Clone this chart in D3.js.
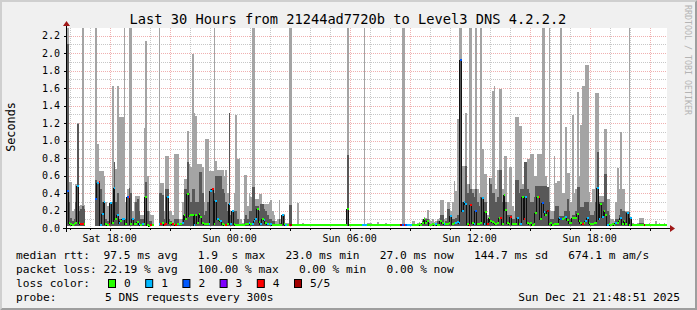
<!DOCTYPE html>
<html>
<head>
<meta charset="utf-8">
<script src="https://cdnjs.cloudflare.com/ajax/libs/d3/7.8.5/d3.min.js"></script>
<style>
  body { margin: 0; background: #f0f0f0; }
  svg { display: block; }
  text { font-family: "DejaVu Sans Mono", monospace; fill: #000; white-space: pre; }
</style>
</head>
<body>
<script>
// 5 minute samples, 30 hours (360 steps), values in seconds
const smokeHi = [
  2.29,0.53,0.53,0.20,0.22,0.50,1.20,0.25,0.26,2.29,
  0.26,null,null,null,null,null,null,2.29,0.96,0.65,
  0.65,0.65,0.60,0.30,0.25,0.25,0.30,1.63,0.76,0.67,
  1.62,1.27,1.27,1.27,2.29,0.30,0.45,2.29,2.29,0.20,
  0.30,0.37,0.37,0.37,0.15,0.15,1.14,2.14,0.60,0.20,
  0.15,0.15,null,null,null,2.29,0.52,0.52,0.20,0.82,
  0.82,0.20,0.20,0.15,0.85,0.85,0.85,0.10,0.10,0.30,
  0.56,0.56,1.11,0.73,0.70,1.99,1.31,1.28,0.73,0.73,
  0.73,0.70,0.30,1.02,1.02,0.65,0.65,0.65,2.29,0.77,
  0.66,0.66,0.66,0.66,0.60,0.66,0.40,1.31,0.20,0.20,
  0.40,1.29,0.79,0.80,0.10,0.06,0.61,0.61,0.25,0.40,
  0.35,2.29,2.29,0.33,0.33,0.39,0.39,0.27,0.27,0.27,
  0.27,0.30,0.32,0.20,0.15,0.08,0.10,0.32,0.10,0.16,
  0.16,0.06,0.06,2.29,2.29,0.05,0.05,0.05,0.29,0.05,
  0.05,0.06,0.05,0.05,0.05,0.05,0.04,0.04,0.05,0.04,
  0.04,0.05,0.04,0.04,0.04,0.05,0.04,0.04,0.04,0.04,
  0.04,0.04,0.05,0.05,0.04,0.04,0.04,0.05,2.29,0.05,
  0.04,0.04,0.04,0.04,0.04,0.04,0.04,0.05,2.29,0.05,
  0.06,0.06,0.06,0.04,0.04,0.04,0.07,0.04,0.04,0.04,
  0.04,0.06,0.04,0.04,0.04,0.04,0.04,0.04,0.04,0.04,
  0.05,2.29,2.29,0.05,0.05,0.05,0.05,0.08,0.08,0.05,
  0.06,0.07,0.06,0.10,0.13,0.12,0.21,0.10,0.08,0.10,
  0.07,0.08,0.10,0.12,0.32,0.32,0.10,0.12,0.30,0.30,
  0.20,0.30,0.54,0.42,1.25,2.29,2.29,0.71,0.71,1.32,
  0.50,2.29,2.29,0.45,0.45,2.29,0.45,0.40,2.29,0.90,
  0.62,0.62,0.15,0.57,0.57,1.57,1.63,0.45,0.66,1.59,
  1.59,0.45,0.82,0.82,0.30,0.70,0.70,0.25,0.20,1.27,
  1.27,1.17,1.17,0.50,0.75,0.75,0.79,0.79,0.85,0.85,
  0.60,0.60,0.85,0.85,0.85,2.29,2.29,0.60,0.47,2.29,
  0.20,0.20,0.82,0.52,0.54,0.54,2.29,0.40,0.40,1.16,
  0.63,0.63,0.30,1.29,0.40,0.45,1.56,0.60,1.18,1.63,
  1.63,1.87,1.87,0.41,0.30,0.45,0.45,1.55,1.55,0.37,
  0.37,0.37,1.13,1.13,0.33,0.33,0.10,0.10,0.08,0.30,
  0.69,0.45,1.10,0.45,0.45,0.20,0.20,2.29,0.12,0.06,
  0.05,0.05,0.06,0.11,0.11,0.11,0.05,0.05,0.05,0.06,
  0.05,0.05,0.05,0.08,0.05,0.06,0.05,0.05,0.06,0.05
];
const smokeIn = [
  2.10,0.30,0.12,0.08,0.10,0.30,1.19,0.20,0.22,0.25,
  0.22,null,null,null,null,null,null,0.55,0.53,0.53,
  0.45,0.30,0.30,0.10,0.08,0.10,0.28,0.30,0.76,0.30,
  0.40,0.10,0.10,0.12,0.12,0.10,0.35,0.46,0.40,0.10,
  0.10,0.30,0.33,0.20,0.10,0.10,0.35,0.53,0.20,0.08,
  0.08,0.05,null,null,null,0.40,0.40,0.38,0.10,0.45,
  0.45,0.10,0.08,0.05,0.10,0.10,0.10,0.05,0.06,0.10,
  0.45,0.45,0.75,0.40,0.30,0.45,0.45,0.30,0.30,0.64,
  0.64,0.40,0.15,0.20,0.30,0.40,0.45,0.45,0.40,0.60,
  0.60,0.60,0.60,0.45,0.40,0.30,0.20,1.31,0.15,0.18,
  0.20,0.20,0.10,0.05,0.05,0.05,0.10,0.15,0.10,0.20,
  0.20,0.47,0.47,0.25,0.25,0.20,0.27,0.27,0.22,0.20,
  0.15,0.10,0.10,0.08,0.08,0.05,0.05,0.10,0.06,0.15,
  0.15,0.04,0.04,0.26,0.26,0.04,0.04,0.04,0.05,0.04,
  0.04,0.04,0.04,0.04,0.04,0.04,0.04,0.04,0.04,0.04,
  0.04,0.04,0.04,0.04,0.04,0.04,0.04,0.04,0.04,0.04,
  0.04,0.04,0.04,0.04,0.04,0.04,0.04,0.04,0.83,0.04,
  0.04,0.04,0.04,0.04,0.04,0.04,0.04,0.04,0.04,0.04,
  0.04,0.04,0.04,0.04,0.04,0.04,0.04,0.04,0.04,0.04,
  0.04,0.04,0.04,0.04,0.04,0.04,0.04,0.04,0.04,0.04,
  0.04,0.04,0.04,0.04,0.04,0.04,0.04,0.04,0.04,0.04,
  0.04,0.05,0.04,0.08,0.12,0.10,0.10,0.06,0.05,0.05,
  0.05,0.05,0.08,0.05,0.15,0.15,0.06,0.08,0.22,0.22,
  0.15,0.10,0.10,0.12,0.15,0.40,1.92,0.30,0.31,0.71,
  0.40,0.50,0.45,0.40,0.35,0.45,0.30,0.25,0.35,0.35,
  0.30,0.30,0.10,0.57,0.50,0.40,0.40,0.30,0.35,0.66,
  0.66,0.30,0.39,0.30,0.15,0.15,0.15,0.10,0.10,0.55,
  0.55,0.40,0.45,0.45,0.75,0.75,0.45,0.40,0.30,0.30,
  0.35,0.48,0.48,0.48,0.48,0.48,0.48,0.48,0.47,0.30,
  0.10,0.10,0.20,0.25,0.25,0.14,0.14,0.14,0.20,0.20,
  0.33,0.20,0.10,0.15,0.15,0.20,0.47,0.47,0.24,0.24,
  0.30,0.30,0.30,0.20,0.15,0.15,0.20,0.30,0.87,0.30,
  0.30,0.30,0.62,0.62,0.20,0.15,0.05,0.06,0.05,0.10,
  0.10,0.15,0.22,0.20,0.20,0.18,0.18,0.18,0.10,0.04,
  0.04,0.04,0.04,0.06,0.06,0.06,0.04,0.04,0.04,0.04,
  0.04,0.04,0.04,0.04,0.04,0.04,0.04,0.04,0.04,0.04
];
const smokeLo = [
  0.02,0.02,0.02,0.02,0.02,0.02,0.02,0.02,0.02,0.02,
  0.02,null,null,null,null,null,null,0.02,0.02,0.02,
  0.02,0.02,0.02,0.02,0.02,0.02,0.02,0.02,0.02,0.02,
  0.02,0.02,0.02,0.02,0.02,0.02,0.02,0.02,0.02,0.02,
  0.02,0.02,0.02,0.02,0.02,0.02,0.02,0.02,0.02,0.02,
  0.02,0.02,null,null,null,0.02,0.02,0.02,0.02,0.02,
  0.02,0.02,0.02,0.02,0.02,0.02,0.02,0.02,0.02,0.02,
  0.02,0.02,0.02,0.02,0.02,0.02,0.02,0.02,0.02,0.02,
  0.02,0.02,0.02,0.02,0.02,0.02,0.02,0.02,0.02,0.02,
  0.02,0.02,0.02,0.02,0.02,0.02,0.02,0.02,0.02,0.02,
  0.02,0.02,0.02,0.02,0.02,0.02,0.02,0.02,0.02,0.02,
  0.02,0.02,0.02,0.02,0.02,0.02,0.02,0.02,0.02,0.02,
  0.02,0.02,0.02,0.02,0.02,0.02,0.02,0.02,0.02,0.02,
  0.02,0.02,0.02,0.02,0.02,0.02,0.02,0.02,0.02,0.02,
  0.02,0.02,0.02,0.02,0.02,0.02,0.02,0.02,0.02,0.02,
  0.02,0.02,0.02,0.02,0.02,0.02,0.02,0.02,0.02,0.02,
  0.02,0.02,0.02,0.02,0.02,0.02,0.02,0.02,0.02,0.02,
  0.02,0.02,0.02,0.02,0.02,0.02,0.02,0.02,0.02,0.02,
  0.02,0.02,0.02,0.02,0.02,0.02,0.02,0.02,0.02,0.02,
  0.02,0.02,0.02,0.02,0.02,0.02,0.02,0.02,0.02,0.02,
  0.02,0.02,0.02,0.02,0.02,0.02,0.02,0.02,0.02,0.02,
  0.02,0.02,0.02,0.02,0.02,0.02,0.02,0.02,0.02,0.02,
  0.02,0.02,0.02,0.02,0.02,0.02,0.02,0.02,0.02,0.02,
  0.02,0.02,0.02,0.02,0.02,0.02,0.02,0.02,0.02,0.02,
  0.02,0.02,0.02,0.02,0.02,0.02,0.02,0.02,0.02,0.02,
  0.02,0.02,0.02,0.02,0.02,0.02,0.02,0.02,0.02,0.02,
  0.02,0.02,0.02,0.02,0.02,0.02,0.02,0.02,0.02,0.02,
  0.02,0.02,0.02,0.02,0.02,0.02,0.02,0.02,0.02,0.02,
  0.02,0.02,0.02,0.02,0.02,0.02,0.02,0.02,0.02,0.02,
  0.02,0.02,0.02,0.02,0.02,0.02,0.02,0.02,0.02,0.02,
  0.02,0.02,0.02,0.02,0.02,0.02,0.02,0.02,0.02,0.02,
  0.02,0.02,0.02,0.02,0.02,0.02,0.02,0.02,0.02,0.02,
  0.02,0.02,0.02,0.02,0.02,0.02,0.02,0.02,0.02,0.02,
  0.02,0.02,0.02,0.02,0.02,0.02,0.02,0.02,0.02,0.02,
  0.02,0.02,0.02,0.02,0.02,0.02,0.02,0.02,0.02,0.02,
  0.02,0.02,0.02,0.02,0.02,0.02,0.02,0.02,0.02,0.02
];
const median = [
  0.42,0.06,0.05,0.04,0.05,0.06,0.48,0.06,0.05,0.05,
  0.05,null,null,null,null,null,null,0.33,0.51,0.53,
  0.04,0.16,0.30,0.05,0.04,0.05,0.29,0.06,0.46,0.10,
  0.15,0.06,0.08,0.10,0.10,0.05,0.35,0.36,0.05,0.10,
  0.05,0.05,0.07,0.05,0.04,0.05,0.05,0.36,0.03,0.02,
  0.04,0.04,null,null,null,0.05,0.05,0.06,0.04,0.05,
  0.36,0.06,0.06,0.05,0.05,0.04,0.05,0.05,0.05,0.06,
  0.15,0.10,0.39,0.14,0.15,0.15,0.04,0.15,0.06,0.16,
  0.13,0.06,0.05,0.05,0.05,0.05,0.42,0.45,0.05,0.31,
  0.10,0.09,0.08,0.05,0.04,0.03,0.05,0.28,0.05,0.20,
  0.05,0.04,0.04,0.04,0.04,0.04,0.04,0.05,0.05,0.06,
  0.05,0.05,0.08,0.10,0.22,0.07,0.05,0.10,0.09,0.06,
  0.05,0.05,0.05,0.04,0.04,0.04,0.04,0.04,0.04,0.15,
  0.05,0.03,0.03,0.03,0.03,0.03,0.03,0.03,0.03,0.03,
  0.03,0.03,0.03,0.03,0.03,0.03,0.03,0.03,0.03,0.03,
  0.03,0.03,0.03,0.03,0.03,0.03,0.03,0.03,0.03,0.03,
  0.03,0.03,0.03,0.03,0.03,0.03,0.03,0.03,0.22,0.03,
  0.03,0.03,0.03,0.03,0.03,0.03,0.03,0.03,0.03,0.03,
  0.03,0.03,0.03,0.03,0.03,0.03,0.03,0.03,0.03,0.03,
  0.03,0.03,0.03,0.03,0.03,0.03,0.03,0.03,0.03,0.03,
  0.03,0.03,0.03,0.03,0.03,0.03,0.03,0.03,0.03,0.03,
  0.03,0.05,0.03,0.06,0.10,0.06,0.08,0.04,0.04,0.05,
  0.03,0.05,0.04,0.04,0.08,0.06,0.05,0.05,0.05,0.06,
  0.14,0.05,0.06,0.06,0.07,0.06,1.92,0.19,0.30,0.28,
  0.05,0.04,0.26,0.06,0.05,0.20,0.05,0.05,0.06,0.34,
  0.05,0.18,0.05,0.11,0.08,0.07,0.06,0.05,0.06,0.11,
  0.11,0.05,0.38,0.21,0.06,0.05,0.13,0.05,0.05,0.05,
  0.11,0.05,0.05,0.36,0.10,0.35,0.06,0.05,0.06,0.04,
  0.05,0.17,0.36,0.36,0.10,0.29,0.18,0.15,0.19,0.05,
  0.06,0.04,0.05,0.05,0.05,0.11,0.10,0.10,0.12,0.13,
  0.09,0.06,0.06,0.12,0.12,0.12,0.16,0.08,0.06,0.05,
  0.06,0.08,0.11,0.06,0.05,0.05,0.06,0.06,0.46,0.10,
  0.27,0.13,0.20,0.15,0.03,0.05,0.04,0.05,0.04,0.06,
  0.06,0.08,0.11,0.05,0.08,0.05,0.17,0.04,0.11,0.03,
  0.03,0.03,0.03,0.03,0.03,0.03,0.03,0.03,0.03,0.03,
  0.03,0.03,0.03,0.03,0.03,0.03,0.03,0.03,0.03,0.03
];
// lost pings out of 5 for each step
const loss = [
  2,0,0,0,0,0,1,0,4,4,
  0,null,null,null,null,null,null,2,1,4,
  1,1,1,0,0,4,1,0,1,0,
  1,1,0,1,1,0,2,4,0,1,
  0,0,0,1,0,1,0,0,0,0,
  4,0,null,null,null,1,4,0,4,4,
  1,0,0,4,0,4,0,1,0,1,
  0,0,0,0,0,0,1,0,0,0,
  0,0,0,0,0,1,1,4,0,1,
  1,0,1,0,0,4,0,1,1,1,
  0,0,0,0,0,0,0,0,0,1,
  0,1,1,1,0,0,1,0,1,0,
  1,0,1,0,0,0,0,0,0,1,
  0,1,0,4,5,0,0,0,0,0,
  0,0,0,0,0,0,0,0,0,0,
  0,0,0,0,0,0,0,0,0,0,
  0,0,0,0,0,0,0,0,0,0,
  0,0,0,0,0,0,0,1,1,1,
  0,0,0,0,0,0,0,0,0,0,
  0,0,0,0,0,0,0,0,0,0,
  5,2,4,2,1,1,1,0,0,0,
  0,0,0,0,0,0,0,0,0,0,
  0,1,0,0,0,0,1,0,0,0,
  1,0,0,1,1,1,2,1,1,1,
  0,4,4,0,1,2,0,0,0,1,
  1,0,4,0,0,0,0,0,0,0,
  4,0,0,0,0,0,4,0,0,0,
  1,0,1,0,4,1,0,0,0,0,
  0,0,0,4,0,2,1,0,5,0,
  0,0,0,0,0,1,2,0,0,1,
  0,0,0,0,0,0,0,0,0,4,
  0,1,1,0,0,0,0,0,1,1,
  0,1,0,0,1,0,0,0,0,1,
  0,0,1,0,0,0,1,0,1,0,
  0,0,0,0,0,0,5,0,0,0,
  0,0,0,0,0,0,0,0,0,0
];

const lossLabels = ["0", "1", "2", "3", "4", "5/5"];
const lossColors = ["#26ff00", "#00b8ff", "#0059ff", "#7e00ff", "#ff0000", "#a10000"];

const title = "Last 30 Hours from 21244ad7720b to Level3 DNS 4.2.2.2";
const legendRtt = "median rtt:  97.5 ms avg   1.9  s max   23.0 ms min   27.0 ms now   144.7 ms sd   674.1 m am/s";
const legendLoss = "packet loss: 22.19 % avg   100.00 % max   0.00 % min   0.00 % now";
const probeText = "5 DNS requests every 300s";
const stampText = "Sun Dec 21 21:48:51 2025";

const W = 697, H = 310;
const pL = 67, pR = 667, pT = 28, pB = 228;
const start = new Date(2025, 11, 20, 15, 52, 0);
const step = 5 * 60 * 1000;
const yMax = 2.288;

const svg = d3.select("body").append("svg")
  .attr("width", W)
  .attr("height", H);

// frame with 3d shading
svg.append("rect").attr("width", W).attr("height", H).attr("fill", "#f0f0f0");
svg.append("path").attr("d", `M0,0H${W}L${W-2},2H2V${H-2}L0,${H}Z`).attr("fill", "#cfcfcf");
svg.append("path").attr("d", `M${W},0V${H}H0L2,${H-2}H${W-2}V2Z`).attr("fill", "#9e9e9e");

const x = d3.scaleTime()
  .domain([start, new Date(+start + 30 * 3600 * 1000)])
  .range([pL, pR]);
const y = d3.scaleLinear()
  .domain([0, yMax])
  .range([pB, pT]);

svg.append("rect")
  .attr("x", pL).attr("y", pT)
  .attr("width", pR - pL).attr("height", pB - pT)
  .attr("fill", "#fff");

// grid (under the graph, like rrdtool)
const grid = svg.append("g").attr("shape-rendering", "crispEdges");
const hours = x.ticks(d3.timeHour.every(1));
const minorCol = "rgba(143,143,143,0.5)";
const majorCol = "rgba(222,80,80,0.45)";
grid.selectAll("line.v")
  .data(hours)
  .enter().append("line")
  .attr("x1", t => Math.round(x(t)) + 0.5).attr("x2", t => Math.round(x(t)) + 0.5)
  .attr("y1", pT).attr("y2", pB)
  .attr("stroke", t => t.getHours() % 3 === 0 ? majorCol : minorCol)
  .attr("stroke-dasharray", "1,1");

const yTicks = d3.range(1, 23).map(k => k / 10);
grid.selectAll("line.h")
  .data(yTicks)
  .enter().append("line")
  .attr("x1", pL).attr("x2", pR)
  .attr("y1", v => Math.round(y(v)) + 0.5).attr("y2", v => Math.round(y(v)) + 0.5)
  .attr("stroke", (v, i) => i % 2 === 1 ? majorCol : minorCol)
  .attr("stroke-dasharray", "1,1");

const samples = median.map((m, i) => ({
  t0: new Date(+start + i * step),
  t1: new Date(+start + (i + 1) * step),
  lo: smokeLo[i], hi: smokeHi[i], inner: smokeIn[i], med: m, loss: loss[i]
})).filter(d => d.med != null);

const px0 = d => Math.round(x(d.t0));
const px1 = d => Math.round(x(d.t1));
const py = v => y(Math.min(v, yMax));

const plot = svg.append("g").attr("shape-rendering", "crispEdges");

// outer smoke (fastest to slowest ping)
plot.selectAll("rect.outer")
  .data(samples)
  .enter().append("rect")
  .attr("class", "outer")
  .attr("x", px0)
  .attr("width", d => px1(d) - px0(d))
  .attr("y", d => Math.round(py(d.hi)))
  .attr("height", d => Math.max(0, Math.round(py(d.lo)) - Math.round(py(d.hi))))
  .attr("fill", "#a4a4a4");

// inner smoke
plot.selectAll("rect.inner")
  .data(samples)
  .enter().append("rect")
  .attr("class", "inner")
  .attr("x", px0)
  .attr("width", d => px1(d) - px0(d))
  .attr("y", d => Math.round(py(d.inner)))
  .attr("height", d => Math.max(0, Math.round(py(d.lo)) - Math.round(py(d.inner))))
  .attr("fill", "#585858");

// median step line
const pts = [];
median.forEach((m, i) => {
  const a = Math.round(x(new Date(+start + i * step)));
  const b = Math.round(x(new Date(+start + (i + 1) * step)));
  if (m == null) { pts.push(null); return; }
  pts.push([a, py(m)], [b, py(m)]);
});
plot.append("path")
  .attr("d", d3.line().defined(p => p != null).x(p => p[0] - 0.5).y(p => Math.round(p[1]) + 0.5)(pts))
  .attr("fill", "none")
  .attr("stroke", "#111")
  .attr("stroke-width", 1);

// loss coloured median marks
plot.selectAll("rect.med")
  .data(samples)
  .enter().append("rect")
  .attr("class", "med")
  .attr("x", px0)
  .attr("width", d => px1(d) - px0(d))
  .attr("y", d => Math.round(py(d.med)) - 1)
  .attr("height", 2)
  .attr("fill", d => lossColors[d.loss]);

// axes
const ax = svg.append("g").attr("shape-rendering", "crispEdges");
ax.append("line").attr("x1", pL - 4).attr("x2", pR + 3)
  .attr("y1", pB + 0.5).attr("y2", pB + 0.5).attr("stroke", "#000");
ax.append("line").attr("x1", pL - 0.5).attr("x2", pL - 0.5)
  .attr("y1", pB + 4).attr("y2", pT - 2).attr("stroke", "#000");
ax.selectAll("line.yt")
  .data(d3.range(0, 23, 2).map(k => k / 10))
  .enter().append("line")
  .attr("x1", pL - 3).attr("x2", pL)
  .attr("y1", v => Math.round(y(v)) + 0.5).attr("y2", v => Math.round(y(v)) + 0.5)
  .attr("stroke", "#000");
ax.selectAll("line.xt")
  .data(hours)
  .enter().append("line")
  .attr("x1", t => Math.round(x(t)) + 0.5).attr("x2", t => Math.round(x(t)) + 0.5)
  .attr("y1", pB).attr("y2", t => t.getHours() % 3 === 0 ? pB + 3 : pB + 2)
  .attr("stroke", "#000");
svg.append("path").attr("d", `M${pR + 3},${pB - 3}L${pR + 8},${pB + 0.5}L${pR + 3},${pB + 4}Z`).attr("fill", "#a01818");
svg.append("path").attr("d", `M${pL - 4},${pT - 2}L${pL - 0.5},${pT - 7}L${pL + 3},${pT - 2}Z`).attr("fill", "#a01818");

svg.selectAll("text.yl")
  .data(d3.range(0, 23, 2).map(k => k / 10))
  .enter().append("text")
  .attr("x", 60).attr("y", v => y(v) + 3.5)
  .attr("text-anchor", "end")
  .style("font-size", "10px")
  .text(d3.format(".1f"));

svg.selectAll("text.xl")
  .data(hours.filter(t => t.getHours() % 6 === 0))
  .enter().append("text")
  .attr("x", t => x(t)).attr("y", 242)
  .attr("text-anchor", "middle")
  .style("font-size", "10px")
  .text(d3.timeFormat("%a %H:%M"));

svg.append("text")
  .attr("transform", "translate(15,127) rotate(-90)")
  .attr("text-anchor", "middle")
  .style("font-size", "11.8px")
  .text("Seconds");

svg.append("text")
  .attr("x", 348).attr("y", 24)
  .attr("text-anchor", "middle")
  .style("font-size", "13.7px")
  .text(title);

svg.append("text")
  .attr("transform", "translate(685,5) rotate(90)")
  .style("font-size", "8.3px")
  .style("fill", "#b4b4b4")
  .text("RRDTOOL / TOBI OETIKER");

// legend
const lg = svg.append("g").style("font-size", "11.2px");
lg.append("text").attr("x", 16).attr("y", 259).text(legendRtt);
lg.append("text").attr("x", 16).attr("y", 273).text(legendLoss);
lg.append("text").attr("x", 16).attr("y", 287).text("loss color:");
const sw = lg.selectAll("g.sw").data(lossLabels).enter().append("g")
  .attr("transform", (d, i) => `translate(${108 + i * 37.2},0)`);
sw.append("rect").attr("x", 0.5).attr("y", 279.5).attr("width", 7).attr("height", 8)
  .attr("fill", (d, i) => lossColors[i]).attr("stroke", "#000");
sw.append("text").attr("x", 16).attr("y", 287).text(d => d);
lg.append("text").attr("x", 16).attr("y", 301).text("probe:");
lg.append("text").attr("x", 105).attr("y", 301).text(probeText);
lg.append("text").attr("x", 680).attr("y", 301).attr("text-anchor", "end").text(stampText);
</script>
</body>
</html>
